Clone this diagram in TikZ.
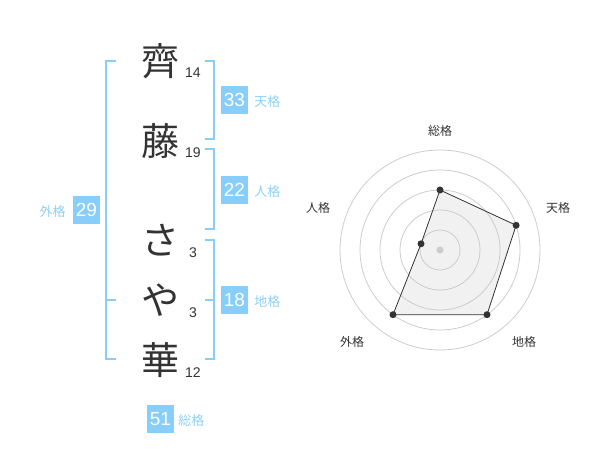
\documentclass[tikz,border=0pt]{standalone}
\usepackage{fontspec}
\setmainfont{Liberation Sans}
\newfontfamily\jp{Noto Sans CJK JP}
\usetikzlibrary{positioning}
\definecolor{skyblue}{HTML}{87CEFA}
\definecolor{labelblue}{HTML}{8DD0F5}
\definecolor{inkgrey}{HTML}{333333}
\definecolor{ringgrey}{HTML}{CCCCCC}
\definecolor{areagrey}{HTML}{F1F1F1}

\begin{document}
\begin{tikzpicture}[x=1pt, y=-1pt,
  kanji/.style={inner sep=0pt, text=inkgrey, font=\jp\fontsize{38}{38}\selectfont},
  strokes/.style={inner sep=0pt, text=inkgrey, font=\fontsize{14}{14}\selectfont},
  scorebox/.style={fill=skyblue, text=white, inner sep=0pt, minimum width=27pt, minimum height=28pt, font=\fontsize{19}{19}\selectfont},
  scorelabel/.style={inner sep=0pt, text=labelblue, font=\jp\fontsize{13}{13}\selectfont},
  bracket/.style={draw=skyblue, line width=2pt},
  axislabel/.style={inner sep=0pt, text=inkgrey, font=\jp\fontsize{12}{12}\selectfont},
  dot/.style={circle, fill=inkgrey, inner sep=0pt, minimum size=7pt}]
  \useasboundingbox (0,0) rectangle (600,470);

  % name, one character per row
  \node[kanji] (c1) at (160,61) {齊};
  \node[kanji] (c2) at (160,141) {藤};
  \node[kanji] (c3) at (160,240) {さ};
  \node[kanji] (c4) at (160,300) {や};
  \node[kanji] (c5) at (160,360) {華};
  \node[strokes] (n1) at (193,73) {14};
  \node[strokes] (n2) at (193,153) {19};
  \node[strokes] (n3) at (193,253) {3};
  \node[strokes] (n4) at (193,313) {3};
  \node[strokes] (n5) at (193,373) {12};

  % brackets
  \draw[bracket] (116,61) -- (106,61) -- (106,359) -- (116,359);
  \draw[bracket] (106,300) -- (116,300);
  \draw[bracket] (205,61) -- (214,61) -- (214,139) -- (205,139);
  \draw[bracket] (205,149) -- (214,149) -- (214,229) -- (205,229);
  \draw[bracket] (205,240) -- (214,240) -- (214,359) -- (205,359);
  \draw[bracket] (205,300) -- (214,300);

  % scores
  \node[scorebox] (ten) at (234.5,100) {33};
  \node[scorebox] (jin) at (234.5,190) {22};
  \node[scorebox] (chi) at (234.5,300) {18};
  \node[scorebox] (gai) at (86.5,210) {29};
  \node[scorebox] (sou) at (160.5,419) {51};
  \node[scorelabel, anchor=base west] (tenl) at ([xshift=6pt]ten.base east) {天格};
  \node[scorelabel, anchor=base west] (jinl) at ([xshift=6pt]jin.base east) {人格};
  \node[scorelabel, anchor=base west] (chil) at ([xshift=6pt]chi.base east) {地格};
  \node[scorelabel, anchor=base east] (gail) at ([xshift=-7pt]gai.base west) {外格};
  \node[scorelabel, anchor=base west] (soul) at ([xshift=4pt]sou.base east) {総格};

  % radar
  \coordinate (hub) at (440,250);
  \fill[areagrey] (440,190) -- (516.1,225.3) -- (487,314.7) -- (393,314.7) -- (421,243.8) -- cycle;
  \foreach \r in {20,40,60,80,100}
    \draw[ringgrey, line width=0.8pt] (hub) circle[radius=\r pt];
  \node[dot, fill=ringgrey] (hubdot) at (hub) {};
  \node[dot] (psou) at (440,190) {};
  \node[dot] (pten) at (516.1,225.3) {};
  \node[dot] (pchi) at (487,314.7) {};
  \node[dot] (pgai) at (393,314.7) {};
  \node[dot] (pjin) at (421,243.8) {};
  \draw[inkgrey, line width=0.8pt] (psou.center) -- (pten.center) -- (pchi.center) -- (pgai.center) -- (pjin.center) -- cycle;
  \node[axislabel] (asou) at (440,131) {総格};
  \node[axislabel] (aten) at (558,208) {天格};
  \node[axislabel] (ajin) at (318,208) {人格};
  \node[axislabel] (agai) at (352,342) {外格};
  \node[axislabel] (achi) at (524,342) {地格};
\end{tikzpicture}
\end{document}
